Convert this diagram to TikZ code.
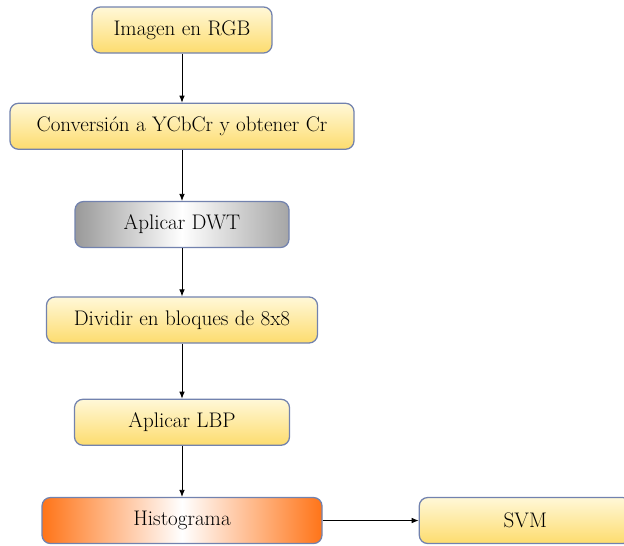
\documentclass[tikz,border=0pt]{standalone}
\usepackage{xcolor}
\usepackage{tikz}
\usetikzlibrary{arrows.meta, positioning}

\definecolor{boxedge}{HTML}{7282AE}
\definecolor{ytop}{HTML}{FFF8D8}
\definecolor{ybot}{HTML}{FDDC6E}
\definecolor{hist}{HTML}{FF7418}

\begin{document}
\begin{tikzpicture}[
  font=\fontsize{15}{17}\selectfont,
  stage/.style={rectangle, rounded corners=6pt, minimum height=1.15cm, text centered, draw=boxedge, line width=0.9pt, top color=ytop, bottom color=ybot},
  graystage/.style={stage, left color=gray!80, right color=gray!70, middle color=white},
  orangestage/.style={stage, left color=hist, right color=hist, middle color=white},
  arrow/.style={line width=0.6pt, -{Latex[length=5pt, width=4pt]}}
]
\useasboundingbox (0,0) rectangle (15.6,-13.625);
\clip (0,0) rectangle (15.6,-13.625);
\node (rgb) [stage, minimum width=4.5cm] at (4.55,-0.75) {Imagen en RGB};
\node (ycbcr) [stage, minimum width=8.6cm, below=1.225cm of rgb] {Conversión a YCbCr y obtener Cr};
\node (dwt) [graystage, minimum width=5.35cm, below=1.275cm of ycbcr] {Aplicar DWT};
\node (blocks) [stage, minimum width=6.775cm, below=1.205cm of dwt] {Dividir en bloques de 8x8};
\node (lbp) [stage, minimum width=5.375cm, below=1.375cm of blocks] {Aplicar LBP};
\node (histo) [orangestage, minimum width=7cm, below=1.275cm of lbp] {Histograma};
\node (svm) [stage, minimum width=5.3cm, right=2.4cm of histo] {SVM};
\draw [arrow] (rgb) -- (ycbcr);
\draw [arrow] (ycbcr) -- (dwt);
\draw [arrow] (dwt) -- (blocks);
\draw [arrow] (blocks) -- (lbp);
\draw [arrow] (lbp) -- (histo);
\draw [arrow] (histo) -- (svm);
\end{tikzpicture}
\end{document}
